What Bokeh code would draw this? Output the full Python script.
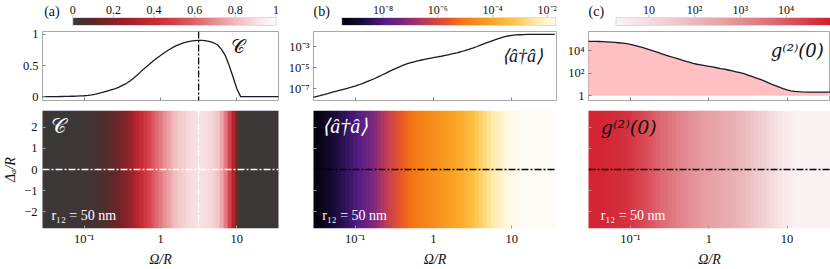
import math
import numpy as np
from bokeh.plotting import figure
from bokeh.layouts import row, column
from bokeh.models import (Range1d, FixedTicker, Span, Label, LinearColorMapper,
                          LogColorMapper, CustomJSTickFormatter)
from bokeh.core.properties import value
from bokeh.embed import file_html
from bokeh.resources import INLINE

FONT = "Liberation Serif"

# ---------------- data ----------------
# sample positions: log10(Omega/R)
log_omega = [round(-1.55 + 0.05 * i, 2) for i in range(63)]

# (a) concurrence C at Delta_a = 0
coherence = [0, 0, 0, 0, 0.001, 0.002, 0.003, 0.004, 0.006, 0.008,
             0.011, 0.014, 0.020, 0.028, 0.039, 0.055, 0.072, 0.090, 0.108, 0.126,
             0.148, 0.180, 0.210, 0.250, 0.300, 0.353, 0.410, 0.463, 0.515, 0.568,
             0.617, 0.660, 0.705, 0.745, 0.782, 0.815, 0.840, 0.862, 0.879, 0.892,
             0.901, 0.905, 0.903, 0.895, 0.882, 0.862, 0.830, 0.760, 0.660, 0.500,
             0.320, 0.130, 0, 0, 0, 0, 0, 0, 0, 0,
             0, 0, 0]

# (b) log10 <a^dagger a>
log_photons = [-7.87, -7.77, -7.68, -7.58, -7.48, -7.37, -7.27, -7.17, -7.07, -6.97,
               -6.87, -6.76, -6.63, -6.49, -6.34, -6.19, -6.03, -5.85, -5.67, -5.49,
               -5.31, -5.13, -4.96, -4.80, -4.66, -4.54, -4.44, -4.35, -4.26, -4.18,
               -4.11, -4.04, -3.97, -3.90, -3.82, -3.74, -3.66, -3.57, -3.47, -3.36,
               -3.25, -3.13, -2.99, -2.84, -2.69, -2.55, -2.42, -2.29, -2.16, -2.05,
               -1.96, -1.90, -1.86, -1.84, -1.82, -1.81, -1.81, -1.81, -1.81, -1.81,
               -1.81, -1.81, -1.81]

# (c) log10 g2(0)
log_g2 = [4.83, 4.83, 4.82, 4.81, 4.80, 4.78, 4.76, 4.73, 4.70, 4.66,
          4.62, 4.55, 4.47, 4.38, 4.28, 4.17, 4.06, 3.95, 3.84, 3.72,
          3.61, 3.50, 3.39, 3.28, 3.17, 3.07, 2.97, 2.87, 2.79, 2.73,
          2.67, 2.61, 2.55, 2.48, 2.41, 2.35, 2.28, 2.20, 2.12, 2.04,
          1.95, 1.83, 1.71, 1.59, 1.47, 1.33, 1.18, 1.03, 0.89, 0.75,
          0.62, 0.51, 0.43, 0.38, 0.35, 0.33, 0.32, 0.32, 0.32, 0.32,
          0.32, 0.32, 0.32]

omega_marker = 3.16           # vertical dash-dot line in (a)
delta_marker = 0.0            # horizontal dash-dot line in heatmaps
delta_range = (-2.8, 2.8)     # Delta_a / R
cbar_a = (0.0, 1.0)
cbar_b_log = (-9.51, -1.70)
cbar_c_log = (0.28, 4.97)
ticks_cbar_a = [0, 0.2, 0.4, 0.6, 0.8, 1]
labels_cbar_a = ["0", "0.2", "0.4", "0.6", "0.8", "1"]
ticks_cbar_b = [1e-8, 1e-6, 1e-4, 1e-2]
ticks_cbar_c = [10, 1e2, 1e3, 1e4]
ticks_x = [0.1, 1, 10]
ticks_delta = [-2, -1, 0, 1, 2]
ticks_line_a = [0, 0.5, 1]
ticks_line_b = [1e-7, 1e-5, 1e-3]
ticks_line_c = [1, 1e2, 1e4]
panel_letters = ["(a)", "(b)", "(c)"]

omega = [10 ** v for v in log_omega]
photons = [10 ** v for v in log_photons]
g2 = [10 ** v for v in log_g2]
half = 0.025
map_x0 = 10 ** (log_omega[0] - half)
map_x1 = 10 ** (log_omega[-1] + half)

SUP = {"-": "\u207b", "0": "\u2070", "1": "\u00b9", "2": "\u00b2", "3": "\u00b3",
       "4": "\u2074", "5": "\u2075", "6": "\u2076", "7": "\u2077", "8": "\u2078",
       "9": "\u2079"}


def pow_label(t):
    e = int(round(math.log10(t)))
    if e == 0:
        return "1"
    if e == 1:
        return "10"
    return "10" + "".join(SUP[c] for c in str(e))


# ---------------- colour maps ----------------
def ramp(anchors, n=256):
    pos = [a[0] for a in anchors]
    cols = [tuple(int(a[1][i:i + 2], 16) for i in (1, 3, 5)) for a in anchors]
    out = []
    for k in range(n):
        t = k / (n - 1)
        rgb = [np.interp(t, pos, [c[j] for c in cols]) for j in range(3)]
        out.append("#%02x%02x%02x" % tuple(int(round(v)) for v in rgb))
    return out


pal_a = ramp([(0.0, "#3b3737"), (0.1, "#582a2b"), (0.2, "#85222a"), (0.3, "#aa2229"),
              (0.4, "#c62a31"), (0.5, "#d4404a"), (0.6, "#de6068"), (0.7, "#e88d92"),
              (0.8, "#f1b8bb"), (0.9, "#f8dfe0"), (1.0, "#ffffff")])
pal_b = ramp([(0.0, "#000004"), (0.1, "#1b0c3c"), (0.2, "#551d86"), (0.3, "#86297a"),
              (0.4, "#c23e52"), (0.5, "#e8572a"), (0.56, "#f57612"), (0.7, "#fba527"),
              (0.8, "#fdc54a"), (0.9, "#feeaa8"), (1.0, "#fffcf5")])
pal_c = ramp([(0.0, "#fbf3f4"), (0.25, "#f0cdd0"), (0.5, "#e6a0a5"), (0.75, "#dc6670"),
              (1.0, "#d21c2b")])

sup_fmt = CustomJSTickFormatter(code="""
const e = Math.round(Math.log10(tick));
const s = {"-":"\u207b","0":"\u2070","1":"\u00b9","2":"\u00b2","3":"\u00b3","4":"\u2074",
           "5":"\u2075","6":"\u2076","7":"\u2077","8":"\u2078","9":"\u2079"};
if (e == 0) return "1";
if (e == 1) return "10";
return "10" + String(e).split("").map(c => s[c]).join("");
""")
minus_fmt = CustomJSTickFormatter(code="""
return tick < 0 ? "\u2212" + Math.abs(tick) : String(tick);
""")
plain_fmt = CustomJSTickFormatter(code="return String(tick);")
blank_fmt = CustomJSTickFormatter(code="return ' ';")

# ---------------- geometry (page has no margin) ----------------
COLS = [  # (left border, frame width, right border, x-range in log10, letter x px)
    (36, 242, 3, (-1.547, 1.547), 2),
    (32, 243, 1, (-1.532, 1.571), 0),
    (31, 242, 0, (-1.536, 1.555), 0),
]
H_CB = 26                      # colour-bar strip, y measured in px from its bottom
BAR_Y0, BAR_H = 1, 8
LABEL_Y, LETTER_Y = 17, 15
H_LINE, LN_TOP, LN_BOT = 78, 5, 1
H_MAP, MP_TOP, MP_BOT = 165, 6, 38


def make_fig(width, height, bl, br, bt, bb, x_range, y_range, x_type="log",
             y_type="linear", **kw):
    p = figure(width=width, height=height, x_range=x_range, y_range=y_range,
               x_axis_type=x_type, y_axis_type=y_type, toolbar_location=None,
               output_backend="svg", min_border_left=bl, min_border_right=br,
               min_border_top=bt, min_border_bottom=bb, **kw)
    p.grid.visible = False
    p.outline_line_color = "#a8a8a8"
    p.background_fill_color = "white"
    p.border_fill_color = "white"
    return p


def style_axis(ax, show=True, size="12.5px"):
    ax.axis_line_color = None
    ax.major_tick_in = 3
    ax.major_tick_out = 0
    ax.minor_tick_line_color = None
    ax.major_tick_line_color = "#808080"
    ax.major_label_text_font = FONT
    ax.major_label_text_color = "#111111"
    if show:
        ax.major_label_text_font_size = size
        ax.major_label_standoff = 3
    else:
        ax.major_label_text_font_size = "1px"
        ax.major_label_standoff = 0
        ax.formatter = blank_fmt


def colorbar_fig(col, palette, lo, hi, log, ticks, labels, letter):
    bl, fw, br = col[:3]
    per_px = (hi - lo) / fw
    xs, xe = lo - bl * per_px, hi + br * per_px
    if log:
        xr, xt = Range1d(10 ** xs, 10 ** xe), "log"
        x0, x1 = 10 ** lo, 10 ** hi
        letter_x = 10 ** (xs + col[4] * per_px)
    else:
        xr, xt = Range1d(xs, xe), "linear"
        x0, x1 = lo, hi
        letter_x = xs + col[4] * per_px
    p = figure(width=bl + fw + br, height=H_CB, x_range=xr, y_range=Range1d(0, H_CB),
               x_axis_type=xt, toolbar_location=None, output_backend="svg",
               min_border=0)
    p.axis.visible = False
    p.grid.visible = False
    p.outline_line_color = None
    mapper = LinearColorMapper(palette=palette, low=0, high=1)
    p.image(image=[np.linspace(0, 1, 256).reshape(1, 256)], x=x0, y=BAR_Y0,
            dw=x1 - x0, dh=BAR_H, color_mapper=mapper)
    p.quad(left=x0, right=x1, bottom=BAR_Y0, top=BAR_Y0 + BAR_H, fill_color=None,
           line_color="#dcdcdc", line_width=1)
    p.segment(x0=ticks, x1=ticks, y0=[BAR_Y0 + BAR_H] * len(ticks),
              y1=[BAR_Y0 + BAR_H + 3] * len(ticks), line_color="#c8c8c8", line_width=1)
    p.text(x=ticks, y=[LABEL_Y] * len(ticks), text=labels, text_font=value(FONT),
           text_font_size="12px", text_align="center", text_baseline="middle",
           text_color="#111111")
    p.text(x=[letter_x], y=[LETTER_Y], text=[letter], text_font=value(FONT),
           text_font_size="14px", text_align="left", text_baseline="middle",
           text_color="#111111")
    return p


def line_fig(col, y_range, y_type, yticks, yfmt):
    bl, fw, br, lx = col[:4]
    p = make_fig(bl + fw + br, H_LINE, bl, br, LN_TOP, LN_BOT,
                 Range1d(10 ** lx[0], 10 ** lx[1]), y_range, y_type=y_type)
    style_axis(p.xaxis[0], show=False)
    p.xaxis[0].ticker = FixedTicker(ticks=ticks_x)
    ya = p.yaxis[0]
    style_axis(ya)
    ya.major_label_standoff = 4
    ya.ticker = FixedTicker(ticks=yticks)
    ya.formatter = yfmt if yfmt is not None else plain_fmt
    return p


def map_fig(col, values, mapper, show_y):
    bl, fw, br, lx = col[:4]
    p = make_fig(bl + fw + br, H_MAP, bl, br, MP_TOP, MP_BOT,
                 Range1d(10 ** lx[0], 10 ** lx[1]), Range1d(*delta_range))
    p.outline_line_color = None
    p.image(image=[np.array([values], dtype=float)], x=map_x0, y=delta_range[0],
            dw=map_x1 - map_x0, dh=delta_range[1] - delta_range[0], color_mapper=mapper)
    xa = p.xaxis[0]
    style_axis(xa)
    xa.major_label_standoff = 3
    xa.major_tick_line_color = "#a0a0a0"
    xa.ticker = FixedTicker(ticks=ticks_x)
    xa.formatter = sup_fmt
    xa.axis_label = "Ω/R"
    xa.axis_label_text_font = FONT
    xa.axis_label_text_font_style = "italic"
    xa.axis_label_text_font_size = "14px"
    xa.axis_label_standoff = 3
    xa.axis_label_text_color = "#111111"
    ya = p.yaxis[0]
    style_axis(ya, show=show_y)
    ya.major_tick_line_color = "#a0a0a0"
    ya.ticker = FixedTicker(ticks=ticks_delta)
    if show_y:
        ya.formatter = minus_fmt
        ya.major_label_standoff = 5
        ya.major_label_text_font_size = "12.5px"
        ya.axis_label = "Δₐ/R"
        ya.axis_label_text_font = FONT
        ya.axis_label_text_font_style = "italic"
        ya.axis_label_text_font_size = "14px"
        ya.axis_label_standoff = 3
        ya.axis_label_text_color = "#111111"
    return p


def txt(p, x, y, s, size, color, align="left", italic=False, font=FONT):
    p.add_layout(Label(x=x, y=y, text=s, text_font=font, text_font_size=size,
                       text_color=color, text_align=align, text_baseline="middle",
                       text_font_style="italic" if italic else "normal"))


dash = "7 2 2 2"
ca, cb_, cc = COLS

# ---------------- panel (a) ----------------
cbA = colorbar_fig(ca, pal_a, cbar_a[0], cbar_a[1], False, ticks_cbar_a, labels_cbar_a,
                   panel_letters[0])
lnA = line_fig(ca, Range1d(-0.062, 1.046), "linear", ticks_line_a, None)
lnA.line(omega, coherence, line_color="#1a1a2a", line_width=1.3)
lnA.add_layout(Span(location=omega_marker, dimension="height", line_color="black",
                    line_dash=dash, line_width=1.3))
txt(lnA, 10 ** 0.93, 0.80, "𝒞", "19px", "#111111")
mapA = map_fig(ca, coherence, LinearColorMapper(palette=pal_a, low=cbar_a[0], high=cbar_a[1]), True)
mapA.add_layout(Span(location=omega_marker, dimension="height", line_color="white",
                     line_dash=dash, line_width=1.3))
mapA.add_layout(Span(location=delta_marker, dimension="width", line_color="white",
                     line_dash=dash, line_width=1.3))
txt(mapA, 10 ** -1.43, 2.08, "𝒞", "21px", "white")
txt(mapA, 10 ** -1.43, -2.18, "r₁₂ = 50 nm", "14px", "white")

# ---------------- panel (b) ----------------
cbB = colorbar_fig(cb_, pal_b, cbar_b_log[0], cbar_b_log[1], True, ticks_cbar_b,
                   [pow_label(t) for t in ticks_cbar_b], panel_letters[1])
lnB = line_fig(cb_, Range1d(10 ** -8.14, 10 ** -1.53), "log", ticks_line_b, sup_fmt)
lnB.line(omega, photons, line_color="#1a1a2a", line_width=1.3)
txt(lnB, 10 ** 1.40, 10 ** -3.87, "⟨â†â⟩", "18px", "#111111", align="right", italic=True)
mapB = map_fig(cb_, photons, LogColorMapper(palette=pal_b, low=min(photons), high=max(photons)), False)
mapB.add_layout(Span(location=delta_marker, dimension="width", line_color="black",
                     line_dash=dash, line_width=1.3))
txt(mapB, 10 ** -1.42, 2.06, "⟨â†â⟩", "20px", "white", italic=True)
txt(mapB, 10 ** -1.42, -2.18, "r₁₂ = 50 nm", "14px", "white")

# ---------------- panel (c) ----------------
cbC = colorbar_fig(cc, pal_c, cbar_c_log[0], cbar_c_log[1], True, ticks_cbar_c,
                   [pow_label(t) for t in ticks_cbar_c], panel_letters[2])
lnC = line_fig(cc, Range1d(10 ** -0.43, 10 ** 5.70), "log", ticks_line_c, sup_fmt)
lnC.varea(x=omega, y1=1, y2=g2, fill_color="#ffc0c4")
lnC.line(omega, g2, line_color="#1a1a2a", line_width=1.3)
txt(lnC, 10 ** 1.47, 10 ** 4.05, "g⁽²⁾(0)", "18px", "#111111", align="right",
    italic=True, font="DejaVu Serif")
mapC = map_fig(cc, g2, LogColorMapper(palette=pal_c, low=10 ** cbar_c_log[0], high=10 ** cbar_c_log[1]), False)
mapC.add_layout(Span(location=delta_marker, dimension="width", line_color="black",
                     line_dash=dash, line_width=1.3))
txt(mapC, 10 ** -1.38, 2.0, "g⁽²⁾(0)", "19px", "#111111", italic=True, font="DejaVu Serif")
txt(mapC, 10 ** -1.38, -2.18, "r₁₂ = 50 nm", "14px", "white")

layout = row(column(cbA, lnA, mapA), column(cbB, lnB, mapB), column(cbC, lnC, mapC))

with open("out.html", "w") as f:
    f.write(file_html(layout, INLINE))
